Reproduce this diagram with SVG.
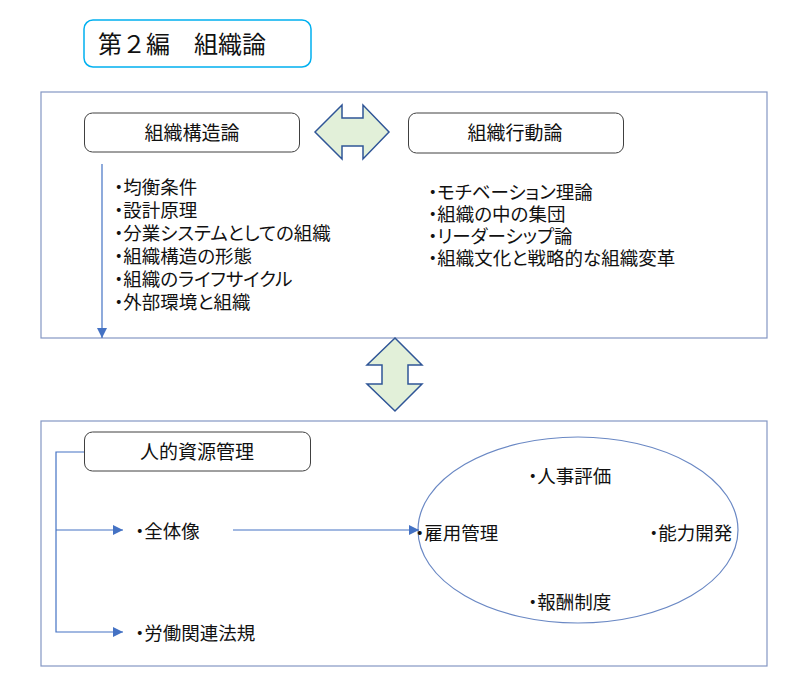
<svg xmlns="http://www.w3.org/2000/svg" width="800" height="699" viewBox="0 0 800 699">
<defs>
<style>
text{font-family:"Noto Sans CJK JP","Noto Sans",sans-serif;fill:#111;font-feature-settings:"palt";}
.title{font-size:24px;font-feature-settings:normal;}
.lbl{font-size:19px;text-anchor:middle;}
.item{font-size:18.5px;}
.panel{fill:#fff;stroke:#8497c4;stroke-width:1.2;}
.node{fill:#fff;stroke:#404040;stroke-width:1;}
.dbl{fill:#e2f0d9;stroke:#2f5597;stroke-width:1.5;stroke-linejoin:miter;}
.conn{fill:none;stroke:#4472c4;stroke-width:1.2;}
.ell{fill:none;stroke:#6a88c4;stroke-width:1.2;}
</style>
<marker id="ah" viewBox="0 0 10 10" refX="10" refY="5" markerWidth="10" markerHeight="10" markerUnits="userSpaceOnUse" orient="auto">
<path d="M0,0 L10,5 L0,10 z" fill="#4472c4"/>
</marker>
</defs>
<rect width="800" height="699" fill="#fff"/>

<g id="title">
<rect x="84" y="20" width="227" height="47" rx="9" fill="#fff" stroke="#00b0f0" stroke-width="1.5"/>
<text class="title" x="98" y="53">第２編　組織論</text>
</g>

<g id="panel-top">
<rect class="panel" x="41" y="92" width="726" height="246"/>
</g>
<g id="panel-bottom">
<rect class="panel" x="41" y="421" width="726" height="245"/>
</g>

<g id="structure">
<rect class="node" x="84.5" y="113" width="215" height="39" rx="8"/>
<text class="lbl" x="192" y="139.5">組織構造論</text>
</g>
<g id="behavior">
<rect class="node" x="408.5" y="113" width="215" height="40" rx="8"/>
<text class="lbl" x="515" y="139.5">組織行動論</text>
</g>

<g id="structure-items">
<text class="item"><tspan x="114" y="194">・均衡条件</tspan><tspan x="114" y="217">・設計原理</tspan><tspan x="114" y="240">・分業システムとしての組織</tspan><tspan x="114" y="263">・組織構造の形態</tspan><tspan x="114" y="286">・組織のライフサイクル</tspan><tspan x="114" y="309">・外部環境と組織</tspan></text>
</g>

<g id="behavior-items">
<text class="item"><tspan x="428" y="199">・モチベーション理論</tspan><tspan x="428" y="221">・組織の中の集団</tspan><tspan x="428" y="243">・リーダーシップ論</tspan><tspan x="428" y="265">・組織文化と戦略的な組織変革</tspan></text>
</g>

<g id="hrm">
<rect class="node" x="84.5" y="432" width="226" height="39" rx="8"/>
<text class="lbl" x="197" y="458.5">人的資源管理</text>
</g>

<g id="overview">
<text class="item" x="135" y="538">・全体像</text>
</g>
<g id="labor-law">
<text class="item" x="135" y="640">・労働関連法規</text>
</g>

<g id="functions">
<ellipse class="ell" cx="578" cy="530" rx="160" ry="93"/>
<text class="item" x="528" y="483">・人事評価</text>
<text class="item" x="415" y="540">・雇用管理</text>
<text class="item" x="649" y="540">・能力開発</text>
<text class="item" x="528" y="609">・報酬制度</text>
</g>

<g id="connectors">
<polygon class="dbl" points="315,132 342,105 342,118 363,118 363,105 389,132 363,159 363,146 342,146 342,159"/>
<polygon class="dbl" points="395,338 422,365 408,365 408,384 422,384 395,411 367,384 382,384 382,365 367,365"/>
<line class="conn" x1="102" y1="164" x2="102" y2="338" marker-end="url(#ah)"/>
<polyline class="conn" points="84,452 56,452 56,632 123,632" marker-end="url(#ah)"/>
<line class="conn" x1="56" y1="530" x2="123" y2="530" marker-end="url(#ah)"/>
<line class="conn" x1="233" y1="530" x2="419" y2="530" marker-end="url(#ah)"/>
</g>
</svg>
